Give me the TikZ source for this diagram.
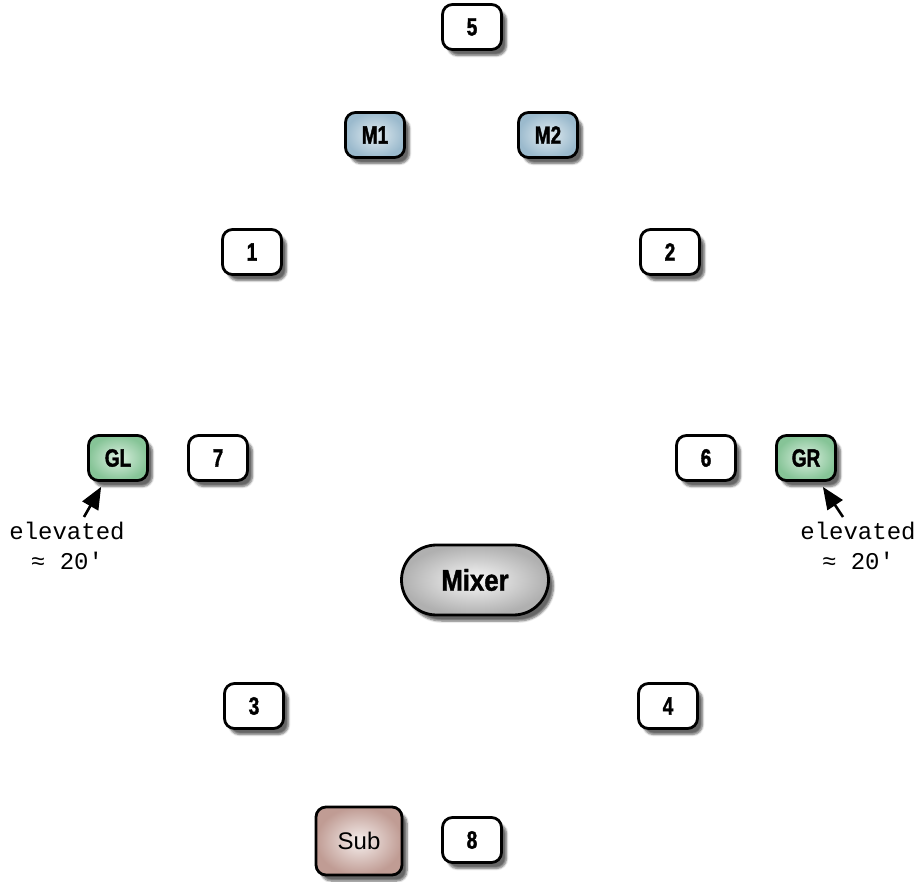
\documentclass[tikz,border=0pt]{standalone}
\usepackage{fontspec}
\setmainfont{Liberation Sans}
\newfontfamily\narrowbold[FakeStretch=0.76,FakeBold=1.5]{Liberation Sans Bold}
\newfontfamily\mixfont[FakeStretch=0.86,FakeBold=1.2]{Liberation Sans Bold}
\setmonofont{Liberation Mono}
\usetikzlibrary{shadows.blur,shapes.misc,arrows.meta}
\definecolor{mblue}{HTML}{9BBACD}
\definecolor{mbluei}{HTML}{E2ECF1}
\definecolor{ggreen}{HTML}{86C497}
\definecolor{ggreeni}{HTML}{DCF0E1}
\definecolor{sbrown}{HTML}{C09C94}
\definecolor{sbrowni}{HTML}{F5EEEC}
\definecolor{mgrey}{HTML}{B0B0B0}
\definecolor{mgreyi}{HTML}{F7F7F7}
\tikzset{
  base/.style={draw=black, line width=2.8pt, inner sep=0pt,
    blur shadow={shadow xshift=5pt, shadow yshift=-6pt, shadow blur steps=6, shadow opacity=60}},
  spk/.style={base, rectangle, rounded corners=10pt, minimum width=59pt, minimum height=45pt,
    fill=white, font=\narrowbold\fontsize{25}{25}\selectfont},
  mic/.style={spk, shade, inner color=mbluei, outer color=mblue},
  grn/.style={spk, shade, inner color=ggreeni, outer color=ggreen},
  subw/.style={base, rectangle, rounded corners=10pt, minimum width=86pt, minimum height=68pt,
    shade, inner color=sbrowni, outer color=sbrown, font=\fontsize{24}{24}\selectfont},
  mixer/.style={base, rounded rectangle, minimum width=147pt, minimum height=70pt,
    shade, inner color=mgreyi, outer color=mgrey, font=\mixfont\fontsize{30}{30}\selectfont},
  note/.style={font=\ttfamily\fontsize{24}{30}\selectfont, align=center, inner sep=0pt},
  pointer/.style={line width=2.6pt, -{Triangle[length=22pt,width=18pt]}}
}
\begin{document}
\begin{tikzpicture}[x=1pt,y=-1pt]
\useasboundingbox (0,0) rectangle (919,882);
\node[spk] (n5) at (472,27) {5};
\node[mic] (M1) at (375,135) {M1};
\node[mic] (M2) at (548,135) {M2};
\node[spk] (n1) at (252,252) {1};
\node[spk] (n2) at (670,252) {2};
\node[grn] (GL) at (118,458) {GL};
\node[spk] (n7) at (218,458) {7};
\node[spk] (n6) at (706,458) {6};
\node[grn] (GR) at (806,458) {GR};
\node[mixer] (mix) at (475,580) {Mixer};
\node[spk] (n3) at (254,706) {3};
\node[spk] (n4) at (668,706) {4};
\node[subw] (sub) at (359,841) {Sub};
\node[spk] (n8) at (472,840) {8};
\node[note] (nl) at (67,546) {elevated\\≈ 20'};
\node[note] (nr) at (858,546) {elevated\\≈ 20'};
\coordinate (tl) at (84,517);
\coordinate (tr) at (843,517);
\draw[pointer] (tl) -- ([xshift=14pt,yshift=-5pt]GL.south west);
\draw[pointer] (tr) -- ([xshift=-14pt,yshift=-5pt]GR.south east);
\end{tikzpicture}
\end{document}
